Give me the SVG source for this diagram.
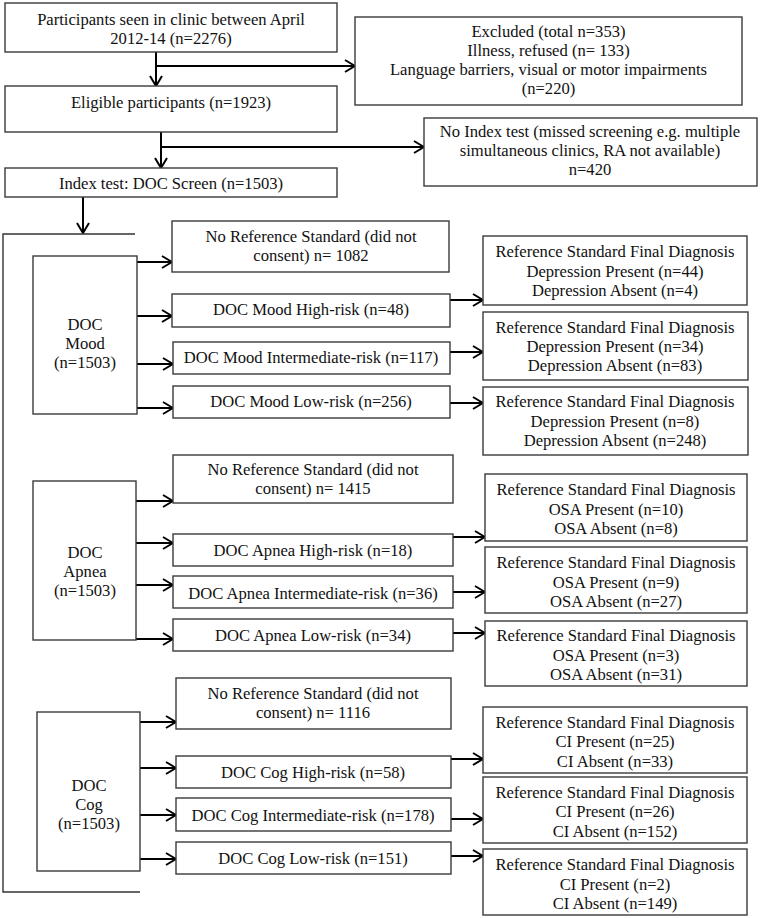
<svg xmlns="http://www.w3.org/2000/svg" width="760" height="918" viewBox="0 0 760 918">
<style>
.box{fill:#fff;stroke:#3a3a3a;stroke-width:1.4}
.t{font-family:'Liberation Serif','DejaVu Serif',serif;font-size:16.6px;fill:#111;text-anchor:middle}
.c{fill:none;stroke:#000;stroke-width:2}
.br{fill:none;stroke:#333;stroke-width:1.4}
</style>
<defs>
<marker id="ah" markerUnits="userSpaceOnUse" markerWidth="12" markerHeight="14" viewBox="0 0 12 14" refX="11" refY="7" orient="auto">
<path d="M1,1 L11,7 L1,13" fill="none" stroke="#000" stroke-width="2"/>
</marker>
</defs>
<rect width="760" height="918" fill="#fff"/>
<g id="connectors">
<line class="c" x1="156" y1="52" x2="156" y2="86" marker-end="url(#ah)"/>
<line class="c" x1="156" y1="66" x2="355" y2="66" marker-end="url(#ah)"/>
<line class="c" x1="161" y1="132" x2="161" y2="168" marker-end="url(#ah)"/>
<line class="c" x1="161" y1="147" x2="424" y2="147" marker-end="url(#ah)"/>
<line class="c" x1="83" y1="197" x2="83" y2="233" marker-end="url(#ah)"/>
<polyline class="br" points="135,234 3,234 3,892 140,892"/>
<line class="c" x1="137" y1="262" x2="172" y2="262" marker-end="url(#ah)"/>
<line class="c" x1="137" y1="316" x2="172" y2="316" marker-end="url(#ah)"/>
<line class="c" x1="137" y1="364" x2="173" y2="364" marker-end="url(#ah)"/>
<line class="c" x1="137" y1="408" x2="173" y2="408" marker-end="url(#ah)"/>
<line class="c" x1="450" y1="300" x2="483" y2="300" marker-end="url(#ah)"/>
<line class="c" x1="450" y1="352" x2="483" y2="352" marker-end="url(#ah)"/>
<line class="c" x1="450" y1="403" x2="483" y2="403" marker-end="url(#ah)"/>
<line class="c" x1="136" y1="501" x2="173" y2="501" marker-end="url(#ah)"/>
<line class="c" x1="136" y1="543" x2="173" y2="543" marker-end="url(#ah)"/>
<line class="c" x1="136" y1="585" x2="173" y2="585" marker-end="url(#ah)"/>
<line class="c" x1="136" y1="639" x2="173" y2="639" marker-end="url(#ah)"/>
<line class="c" x1="453" y1="537" x2="485" y2="537" marker-end="url(#ah)"/>
<line class="c" x1="453" y1="592" x2="485" y2="592" marker-end="url(#ah)"/>
<line class="c" x1="453" y1="633" x2="485" y2="633" marker-end="url(#ah)"/>
<line class="c" x1="140" y1="722" x2="176" y2="722" marker-end="url(#ah)"/>
<line class="c" x1="140" y1="768" x2="176" y2="768" marker-end="url(#ah)"/>
<line class="c" x1="140" y1="815" x2="176" y2="815" marker-end="url(#ah)"/>
<line class="c" x1="140" y1="859" x2="176" y2="859" marker-end="url(#ah)"/>
<line class="c" x1="451" y1="759" x2="483" y2="759" marker-end="url(#ah)"/>
<line class="c" x1="451" y1="819" x2="483" y2="819" marker-end="url(#ah)"/>
<line class="c" x1="451" y1="856" x2="483" y2="856" marker-end="url(#ah)"/>
</g>
<g id="participants"><rect class="box" x="5" y="3" width="332" height="49"/>
<text class="t" x="171" y="25">Participants seen in clinic between April</text>
<text class="t" x="171" y="44">2012-14 (n=2276)</text></g>
<g id="excluded"><rect class="box" x="355" y="17" width="387" height="88"/>
<text class="t" x="548.5" y="37">Excluded (total n=353)</text>
<text class="t" x="548.5" y="56">Illness, refused (n= 133)</text>
<text class="t" x="548.5" y="75">Language barriers, visual or motor impairments</text>
<text class="t" x="548.5" y="94">(n=220)</text></g>
<g id="eligible"><rect class="box" x="5" y="86" width="332" height="46"/>
<text class="t" x="171" y="108">Eligible participants (n=1923)</text></g>
<g id="no-index"><rect class="box" x="424" y="118" width="333" height="68"/>
<text class="t" x="590" y="137">No Index test (missed screening e.g. multiple</text>
<text class="t" x="590" y="156">simultaneous clinics, RA not available)</text>
<text class="t" x="590" y="175">n=420</text></g>
<g id="index-test"><rect class="box" x="5" y="168" width="332" height="29"/>
<text class="t" x="171" y="189">Index test: DOC Screen (n=1503)</text></g>

<g id="mood"><rect class="box" x="33" y="256" width="104" height="158"/>
<text class="t" x="85" y="330">DOC</text><text class="t" x="85" y="349">Mood</text><text class="t" x="85" y="368">(n=1503)</text></g>
<g id="mood-noref"><rect class="box" x="172" y="221" width="277" height="51"/>
<text class="t" x="311" y="242">No Reference Standard (did not</text>
<text class="t" x="311" y="261">consent) n= 1082</text></g>
<g id="mood-high"><rect class="box" x="172" y="294" width="278" height="33"/>
<text class="t" x="311" y="315">DOC Mood High-risk (n=48)</text></g>
<g id="mood-int"><rect class="box" x="173" y="342" width="277" height="32"/>
<text class="t" x="311" y="363">DOC Mood Intermediate-risk (n=117)</text></g>
<g id="mood-low"><rect class="box" x="173" y="386" width="277" height="32"/>
<text class="t" x="311" y="407">DOC Mood Low-risk (n=256)</text></g>
<g id="mood-dx1"><rect class="box" x="483" y="236" width="264" height="69"/>
<text class="t" x="615" y="257">Reference Standard Final Diagnosis</text>
<text class="t" x="615" y="277">Depression Present (n=44)</text>
<text class="t" x="615" y="296">Depression Absent (n=4)</text></g>
<g id="mood-dx2"><rect class="box" x="483" y="312" width="265" height="68"/>
<text class="t" x="615" y="333">Reference Standard Final Diagnosis</text>
<text class="t" x="615" y="352">Depression Present (n=34)</text>
<text class="t" x="615" y="371">Depression Absent (n=83)</text></g>
<g id="mood-dx3"><rect class="box" x="483" y="387" width="265" height="68"/>
<text class="t" x="615" y="407">Reference Standard Final Diagnosis</text>
<text class="t" x="615" y="427">Depression Present (n=8)</text>
<text class="t" x="615" y="446">Depression Absent (n=248)</text></g>

<g id="apnea"><rect class="box" x="33" y="481" width="103" height="159"/>
<text class="t" x="85" y="558">DOC</text><text class="t" x="85" y="577">Apnea</text><text class="t" x="85" y="596">(n=1503)</text></g>
<g id="apnea-noref"><rect class="box" x="173" y="455" width="280" height="48"/>
<text class="t" x="313" y="475">No Reference Standard (did not</text>
<text class="t" x="313" y="494">consent) n= 1415</text></g>
<g id="apnea-high"><rect class="box" x="173" y="534" width="280" height="32"/>
<text class="t" x="313" y="556">DOC Apnea High-risk (n=18)</text></g>
<g id="apnea-int"><rect class="box" x="173" y="576" width="280" height="32"/>
<text class="t" x="313" y="599">DOC Apnea Intermediate-risk (n=36)</text></g>
<g id="apnea-low"><rect class="box" x="173" y="619" width="280" height="32"/>
<text class="t" x="313" y="641">DOC Apnea Low-risk (n=34)</text></g>
<g id="apnea-dx1"><rect class="box" x="485" y="474" width="262" height="67"/>
<text class="t" x="616" y="495">Reference Standard Final Diagnosis</text>
<text class="t" x="616" y="515">OSA Present (n=10)</text>
<text class="t" x="616" y="534">OSA Absent (n=8)</text></g>
<g id="apnea-dx2"><rect class="box" x="485" y="547" width="262" height="66"/>
<text class="t" x="616" y="568">Reference Standard Final Diagnosis</text>
<text class="t" x="616" y="588">OSA Present (n=9)</text>
<text class="t" x="616" y="607">OSA Absent (n=27)</text></g>
<g id="apnea-dx3"><rect class="box" x="485" y="621" width="262" height="65"/>
<text class="t" x="616" y="641">Reference Standard Final Diagnosis</text>
<text class="t" x="616" y="661">OSA Present (n=3)</text>
<text class="t" x="616" y="680">OSA Absent (n=31)</text></g>

<g id="cog"><rect class="box" x="37" y="712" width="103" height="159"/>
<text class="t" x="89" y="791">DOC</text><text class="t" x="89" y="810">Cog</text><text class="t" x="89" y="829">(n=1503)</text></g>
<g id="cog-noref"><rect class="box" x="176" y="678" width="275" height="51"/>
<text class="t" x="313" y="699">No Reference Standard (did not</text>
<text class="t" x="313" y="718">consent) n= 1116</text></g>
<g id="cog-high"><rect class="box" x="176" y="756" width="275" height="32"/>
<text class="t" x="313" y="778">DOC Cog High-risk (n=58)</text></g>
<g id="cog-int"><rect class="box" x="176" y="798" width="275" height="33"/>
<text class="t" x="313" y="821">DOC Cog Intermediate-risk (n=178)</text></g>
<g id="cog-low"><rect class="box" x="176" y="842" width="275" height="32"/>
<text class="t" x="313" y="864">DOC Cog Low-risk (n=151)</text></g>
<g id="cog-dx1"><rect class="box" x="483" y="707" width="264" height="66"/>
<text class="t" x="615" y="728">Reference Standard Final Diagnosis</text>
<text class="t" x="615" y="747">CI Present (n=25)</text>
<text class="t" x="615" y="767">CI Absent (n=33)</text></g>
<g id="cog-dx2"><rect class="box" x="483" y="777" width="264" height="66"/>
<text class="t" x="615" y="798">Reference Standard Final Diagnosis</text>
<text class="t" x="615" y="817">CI Present (n=26)</text>
<text class="t" x="615" y="837">CI Absent (n=152)</text></g>
<g id="cog-dx3"><rect class="box" x="483" y="849" width="264" height="66"/>
<text class="t" x="615" y="870">Reference Standard Final Diagnosis</text>
<text class="t" x="615" y="890">CI Present (n=2)</text>
<text class="t" x="615" y="909">CI Absent (n=149)</text></g>
</svg>
